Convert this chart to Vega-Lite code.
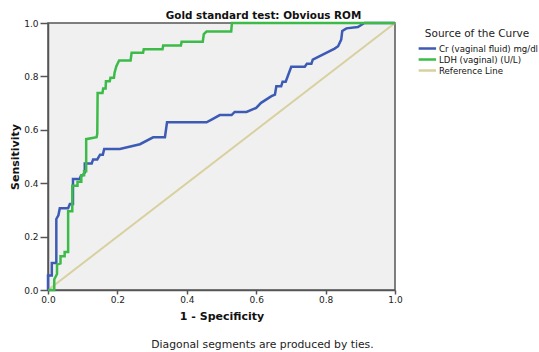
{
  "$schema": "https://vega.github.io/schema/vega-lite/v6.json",
  "background": "white",
  "padding": {"left": 8, "top": 9, "right": 0, "bottom": 0},
  "title": {
    "text": "Diagonal segments are produced by ties.",
    "orient": "bottom",
    "anchor": "middle",
    "dx": -11,
    "font": "DejaVu Sans",
    "fontSize": 10.8,
    "fontWeight": "normal",
    "color": "#222",
    "offset": 17
  },
  "config": {
    "view": {"fill": "#f0f0f0", "stroke": "#555", "strokeWidth": 1.5},
    "axis": {
      "grid": false,
      "domainColor": "#555",
      "domainWidth": 1.5,
      "tickColor": "#555",
      "tickWidth": 1.5,
      "labelFont": "DejaVu Sans",
      "labelFontSize": 9,
      "labelColor": "#222",
      "titleFont": "DejaVu Sans",
      "titleFontSize": 11,
      "titleFontWeight": "bold",
      "titleColor": "#111"
    },
    "legend": {
      "symbolType": "M-1,0L3,0",
      "symbolSize": 76,
      "symbolStrokeWidth": 2.5,
      "labelFont": "DejaVu Sans",
      "labelFontSize": 8.6,
      "labelColor": "#111",
      "labelOffset": 10,
      "titleFont": "DejaVu Sans",
      "titleFontSize": 10.5,
      "titleFontWeight": "normal",
      "titleColor": "#222",
      "titleAnchor": "middle",
      "titlePadding": 3,
      "rowPadding": -2,
      "padding": 0
    }
  },
  "vconcat": [
    {
      "width": 347,
      "height": 267,
      "title": {
        "text": "Gold standard test: Obvious ROM",
        "anchor": "middle",
        "dx": 42,
        "font": "DejaVu Sans",
        "fontSize": 10.4,
        "fontWeight": "bold",
        "color": "#111",
        "offset": -3
      },
      "data": {
        "values": [
          {"curve": "Reference Line", "step": 0, "fpr": 0, "tpr": 0},
          {"curve": "Reference Line", "step": 1, "fpr": 1, "tpr": 1},

          {"curve": "Cr (vaginal fluid) mg/dl", "step": 0, "fpr": 0.000, "tpr": 0.000},
          {"curve": "Cr (vaginal fluid) mg/dl", "step": 1, "fpr": 0.000, "tpr": 0.054},
          {"curve": "Cr (vaginal fluid) mg/dl", "step": 2, "fpr": 0.011, "tpr": 0.054},
          {"curve": "Cr (vaginal fluid) mg/dl", "step": 3, "fpr": 0.011, "tpr": 0.101},
          {"curve": "Cr (vaginal fluid) mg/dl", "step": 4, "fpr": 0.024, "tpr": 0.101},
          {"curve": "Cr (vaginal fluid) mg/dl", "step": 5, "fpr": 0.024, "tpr": 0.266},
          {"curve": "Cr (vaginal fluid) mg/dl", "step": 6, "fpr": 0.030, "tpr": 0.280},
          {"curve": "Cr (vaginal fluid) mg/dl", "step": 7, "fpr": 0.034, "tpr": 0.306},
          {"curve": "Cr (vaginal fluid) mg/dl", "step": 8, "fpr": 0.058, "tpr": 0.306},
          {"curve": "Cr (vaginal fluid) mg/dl", "step": 9, "fpr": 0.063, "tpr": 0.322},
          {"curve": "Cr (vaginal fluid) mg/dl", "step": 10, "fpr": 0.072, "tpr": 0.322},
          {"curve": "Cr (vaginal fluid) mg/dl", "step": 11, "fpr": 0.072, "tpr": 0.416},
          {"curve": "Cr (vaginal fluid) mg/dl", "step": 12, "fpr": 0.092, "tpr": 0.416},
          {"curve": "Cr (vaginal fluid) mg/dl", "step": 13, "fpr": 0.094, "tpr": 0.426},
          {"curve": "Cr (vaginal fluid) mg/dl", "step": 14, "fpr": 0.100, "tpr": 0.430},
          {"curve": "Cr (vaginal fluid) mg/dl", "step": 15, "fpr": 0.106, "tpr": 0.440},
          {"curve": "Cr (vaginal fluid) mg/dl", "step": 16, "fpr": 0.106, "tpr": 0.474},
          {"curve": "Cr (vaginal fluid) mg/dl", "step": 17, "fpr": 0.126, "tpr": 0.474},
          {"curve": "Cr (vaginal fluid) mg/dl", "step": 18, "fpr": 0.130, "tpr": 0.489},
          {"curve": "Cr (vaginal fluid) mg/dl", "step": 19, "fpr": 0.142, "tpr": 0.489},
          {"curve": "Cr (vaginal fluid) mg/dl", "step": 20, "fpr": 0.150, "tpr": 0.507},
          {"curve": "Cr (vaginal fluid) mg/dl", "step": 21, "fpr": 0.158, "tpr": 0.507},
          {"curve": "Cr (vaginal fluid) mg/dl", "step": 22, "fpr": 0.162, "tpr": 0.528},
          {"curve": "Cr (vaginal fluid) mg/dl", "step": 23, "fpr": 0.207, "tpr": 0.528},
          {"curve": "Cr (vaginal fluid) mg/dl", "step": 24, "fpr": 0.265, "tpr": 0.546},
          {"curve": "Cr (vaginal fluid) mg/dl", "step": 25, "fpr": 0.303, "tpr": 0.572},
          {"curve": "Cr (vaginal fluid) mg/dl", "step": 26, "fpr": 0.337, "tpr": 0.572},
          {"curve": "Cr (vaginal fluid) mg/dl", "step": 27, "fpr": 0.343, "tpr": 0.628},
          {"curve": "Cr (vaginal fluid) mg/dl", "step": 28, "fpr": 0.457, "tpr": 0.628},
          {"curve": "Cr (vaginal fluid) mg/dl", "step": 29, "fpr": 0.474, "tpr": 0.640},
          {"curve": "Cr (vaginal fluid) mg/dl", "step": 30, "fpr": 0.495, "tpr": 0.655},
          {"curve": "Cr (vaginal fluid) mg/dl", "step": 31, "fpr": 0.529, "tpr": 0.655},
          {"curve": "Cr (vaginal fluid) mg/dl", "step": 32, "fpr": 0.538, "tpr": 0.667},
          {"curve": "Cr (vaginal fluid) mg/dl", "step": 33, "fpr": 0.572, "tpr": 0.667},
          {"curve": "Cr (vaginal fluid) mg/dl", "step": 34, "fpr": 0.600, "tpr": 0.682},
          {"curve": "Cr (vaginal fluid) mg/dl", "step": 35, "fpr": 0.614, "tpr": 0.701},
          {"curve": "Cr (vaginal fluid) mg/dl", "step": 36, "fpr": 0.644, "tpr": 0.726},
          {"curve": "Cr (vaginal fluid) mg/dl", "step": 37, "fpr": 0.654, "tpr": 0.732},
          {"curve": "Cr (vaginal fluid) mg/dl", "step": 38, "fpr": 0.658, "tpr": 0.763},
          {"curve": "Cr (vaginal fluid) mg/dl", "step": 39, "fpr": 0.672, "tpr": 0.763},
          {"curve": "Cr (vaginal fluid) mg/dl", "step": 40, "fpr": 0.676, "tpr": 0.780},
          {"curve": "Cr (vaginal fluid) mg/dl", "step": 41, "fpr": 0.685, "tpr": 0.780},
          {"curve": "Cr (vaginal fluid) mg/dl", "step": 42, "fpr": 0.701, "tpr": 0.836},
          {"curve": "Cr (vaginal fluid) mg/dl", "step": 43, "fpr": 0.740, "tpr": 0.836},
          {"curve": "Cr (vaginal fluid) mg/dl", "step": 44, "fpr": 0.746, "tpr": 0.847},
          {"curve": "Cr (vaginal fluid) mg/dl", "step": 45, "fpr": 0.759, "tpr": 0.847},
          {"curve": "Cr (vaginal fluid) mg/dl", "step": 46, "fpr": 0.763, "tpr": 0.863},
          {"curve": "Cr (vaginal fluid) mg/dl", "step": 47, "fpr": 0.826, "tpr": 0.904},
          {"curve": "Cr (vaginal fluid) mg/dl", "step": 48, "fpr": 0.836, "tpr": 0.913},
          {"curve": "Cr (vaginal fluid) mg/dl", "step": 49, "fpr": 0.845, "tpr": 0.938},
          {"curve": "Cr (vaginal fluid) mg/dl", "step": 50, "fpr": 0.848, "tpr": 0.970},
          {"curve": "Cr (vaginal fluid) mg/dl", "step": 51, "fpr": 0.860, "tpr": 0.980},
          {"curve": "Cr (vaginal fluid) mg/dl", "step": 52, "fpr": 0.893, "tpr": 0.985},
          {"curve": "Cr (vaginal fluid) mg/dl", "step": 53, "fpr": 0.912, "tpr": 1.000},
          {"curve": "Cr (vaginal fluid) mg/dl", "step": 54, "fpr": 1.000, "tpr": 1.000},

          {"curve": "LDH (vaginal) (U/L)", "step": 0, "fpr": 0.000, "tpr": 0.000},
          {"curve": "LDH (vaginal) (U/L)", "step": 1, "fpr": 0.018, "tpr": 0.000},
          {"curve": "LDH (vaginal) (U/L)", "step": 2, "fpr": 0.018, "tpr": 0.040},
          {"curve": "LDH (vaginal) (U/L)", "step": 3, "fpr": 0.026, "tpr": 0.060},
          {"curve": "LDH (vaginal) (U/L)", "step": 4, "fpr": 0.026, "tpr": 0.095},
          {"curve": "LDH (vaginal) (U/L)", "step": 5, "fpr": 0.036, "tpr": 0.100},
          {"curve": "LDH (vaginal) (U/L)", "step": 6, "fpr": 0.036, "tpr": 0.126},
          {"curve": "LDH (vaginal) (U/L)", "step": 7, "fpr": 0.048, "tpr": 0.126},
          {"curve": "LDH (vaginal) (U/L)", "step": 8, "fpr": 0.048, "tpr": 0.142},
          {"curve": "LDH (vaginal) (U/L)", "step": 9, "fpr": 0.058, "tpr": 0.142},
          {"curve": "LDH (vaginal) (U/L)", "step": 10, "fpr": 0.058, "tpr": 0.295},
          {"curve": "LDH (vaginal) (U/L)", "step": 11, "fpr": 0.070, "tpr": 0.295},
          {"curve": "LDH (vaginal) (U/L)", "step": 12, "fpr": 0.070, "tpr": 0.390},
          {"curve": "LDH (vaginal) (U/L)", "step": 13, "fpr": 0.085, "tpr": 0.390},
          {"curve": "LDH (vaginal) (U/L)", "step": 14, "fpr": 0.085, "tpr": 0.405},
          {"curve": "LDH (vaginal) (U/L)", "step": 15, "fpr": 0.096, "tpr": 0.405},
          {"curve": "LDH (vaginal) (U/L)", "step": 16, "fpr": 0.096, "tpr": 0.430},
          {"curve": "LDH (vaginal) (U/L)", "step": 17, "fpr": 0.104, "tpr": 0.430},
          {"curve": "LDH (vaginal) (U/L)", "step": 18, "fpr": 0.104, "tpr": 0.445},
          {"curve": "LDH (vaginal) (U/L)", "step": 19, "fpr": 0.110, "tpr": 0.445},
          {"curve": "LDH (vaginal) (U/L)", "step": 20, "fpr": 0.110, "tpr": 0.565},
          {"curve": "LDH (vaginal) (U/L)", "step": 21, "fpr": 0.140, "tpr": 0.572},
          {"curve": "LDH (vaginal) (U/L)", "step": 22, "fpr": 0.142, "tpr": 0.585},
          {"curve": "LDH (vaginal) (U/L)", "step": 23, "fpr": 0.143, "tpr": 0.738},
          {"curve": "LDH (vaginal) (U/L)", "step": 24, "fpr": 0.157, "tpr": 0.738},
          {"curve": "LDH (vaginal) (U/L)", "step": 25, "fpr": 0.159, "tpr": 0.755},
          {"curve": "LDH (vaginal) (U/L)", "step": 26, "fpr": 0.166, "tpr": 0.755},
          {"curve": "LDH (vaginal) (U/L)", "step": 27, "fpr": 0.167, "tpr": 0.782},
          {"curve": "LDH (vaginal) (U/L)", "step": 28, "fpr": 0.178, "tpr": 0.782},
          {"curve": "LDH (vaginal) (U/L)", "step": 29, "fpr": 0.180, "tpr": 0.795},
          {"curve": "LDH (vaginal) (U/L)", "step": 30, "fpr": 0.190, "tpr": 0.795},
          {"curve": "LDH (vaginal) (U/L)", "step": 31, "fpr": 0.192, "tpr": 0.815},
          {"curve": "LDH (vaginal) (U/L)", "step": 32, "fpr": 0.197, "tpr": 0.838},
          {"curve": "LDH (vaginal) (U/L)", "step": 33, "fpr": 0.205, "tpr": 0.860},
          {"curve": "LDH (vaginal) (U/L)", "step": 34, "fpr": 0.238, "tpr": 0.860},
          {"curve": "LDH (vaginal) (U/L)", "step": 35, "fpr": 0.241, "tpr": 0.889},
          {"curve": "LDH (vaginal) (U/L)", "step": 36, "fpr": 0.274, "tpr": 0.889},
          {"curve": "LDH (vaginal) (U/L)", "step": 37, "fpr": 0.276, "tpr": 0.902},
          {"curve": "LDH (vaginal) (U/L)", "step": 38, "fpr": 0.330, "tpr": 0.902},
          {"curve": "LDH (vaginal) (U/L)", "step": 39, "fpr": 0.332, "tpr": 0.916},
          {"curve": "LDH (vaginal) (U/L)", "step": 40, "fpr": 0.383, "tpr": 0.916},
          {"curve": "LDH (vaginal) (U/L)", "step": 41, "fpr": 0.385, "tpr": 0.930},
          {"curve": "LDH (vaginal) (U/L)", "step": 42, "fpr": 0.446, "tpr": 0.930},
          {"curve": "LDH (vaginal) (U/L)", "step": 43, "fpr": 0.449, "tpr": 0.958},
          {"curve": "LDH (vaginal) (U/L)", "step": 44, "fpr": 0.457, "tpr": 0.968},
          {"curve": "LDH (vaginal) (U/L)", "step": 45, "fpr": 0.528, "tpr": 0.968},
          {"curve": "LDH (vaginal) (U/L)", "step": 46, "fpr": 0.530, "tpr": 1.000},
          {"curve": "LDH (vaginal) (U/L)", "step": 47, "fpr": 1.000, "tpr": 1.000}
        ]
      },
      "encoding": {
        "x": {
          "field": "fpr",
          "type": "quantitative",
          "title": "1 - Specificity",
          "scale": {"domain": [0, 1], "nice": false},
          "axis": {"values": [0, 0.2, 0.4, 0.6, 0.8, 1], "format": ".1f", "tickSize": 4, "labelPadding": 1, "titlePadding": 6, "labelFlush": false}
        },
        "y": {
          "field": "tpr",
          "type": "quantitative",
          "title": "Sensitivity",
          "scale": {"domain": [0, 1], "nice": false},
          "axis": {"values": [0, 0.2, 0.4, 0.6, 0.8, 1], "format": ".1f", "tickSize": 8, "labelPadding": 2, "titlePadding": 3, "labelFlush": false}
        },
        "color": {
          "field": "curve",
          "type": "nominal",
          "title": "Source of the Curve",
          "scale": {
            "domain": ["Cr (vaginal fluid) mg/dl", "LDH (vaginal) (U/L)", "Reference Line"],
            "range": ["#3d5ab5", "#3cbb48", "#d8d09e"]
          },
          "legend": {"orient": "none", "legendX": 369, "legendY": 6}
        },
        "order": {"field": "step", "type": "quantitative"}
      },
      "layer": [
        {
          "transform": [{"filter": "datum.curve === 'Reference Line'"}],
          "mark": {"type": "line", "strokeWidth": 2, "clip": false}
        },
        {
          "transform": [{"filter": "datum.curve !== 'Reference Line'"}],
          "mark": {"type": "line", "strokeWidth": 2.5, "clip": false, "strokeJoin": "miter"}
        }
      ]
    }
  ]
}
